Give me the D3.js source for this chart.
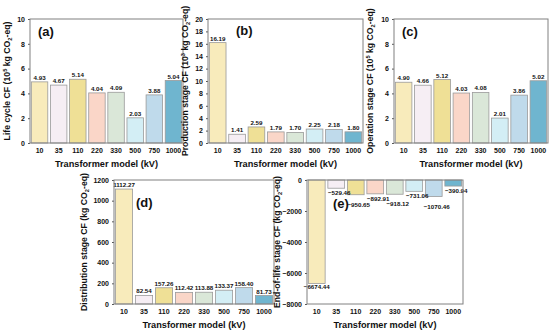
<!DOCTYPE html>
<html>
<head>
<meta charset="utf-8">
<script src="https://cdn.jsdelivr.net/npm/d3@7"></script>
<style>
  body { margin: 0; background: #fff; }
  text { font-family: "Liberation Sans", Arial, sans-serif; font-weight: bold; fill: #111; }
</style>
</head>
<body>
<div id="chart"></div>
<script>
// transformer models (x categories)
var models = ["10", "35", "110", "220", "330", "500", "750", "1000"];

// series values
var lifeCycle = [4.93, 4.67, 5.14, 4.04, 4.09, 2.03, 3.88, 5.04];
var production = [16.19, 1.41, 2.59, 1.79, 1.70, 2.25, 2.18, 1.80];
var operation = [4.90, 4.66, 5.12, 4.03, 4.08, 2.01, 3.86, 5.02];
var distribution = [1112.27, 82.54, 157.26, 112.42, 113.88, 133.37, 158.40, 81.73];
var endOfLife = [-6674.44, -529.46, -950.65, -892.91, -918.12, -731.06, -1070.46, -390.94];

var barColors = ["#f8ebbb", "#f6eef4", "#efe096", "#fad6c8", "#dae7d8", "#d3eef5", "#bfdaeb", "#6fb5cf"];

var svg = d3.select("#chart")
  .append("svg")
  .attr("width", 550)
  .attr("height", 335);

// draw one panel
function drawPanel(p) {
  var g = svg.append("g")
    .attr("transform", `translate(${p.x}, ${p.y})`);

  var x = d3.scaleBand()
    .domain(models)
    .range([0, p.w])
    .paddingInner(0.14)
    .paddingOuter(0.07);

  var y = d3.scaleLinear()
    .domain(p.domain)
    .range([p.h, 0]);

  // y axis
  var yAxis = d3.axisLeft(y).tickValues(p.ticks).tickSize(2).tickPadding(3)
    .tickFormat(d => d < 0 ? "\u2212" + Math.abs(d) : d);
  var ya = g.append("g").call(yAxis);
  ya.select(".domain").remove();
  ya.selectAll("line").attr("stroke", "#555");
  ya.selectAll("text").attr("font-size", 7).attr("fill", "#111")
    .style("font-family", "Liberation Sans").style("font-weight", "bold");

  // x axis
  var xAxis = d3.axisBottom(x).tickSize(0).tickPadding(5);
  var xa = g.append("g").attr("transform", `translate(0, ${p.h})`).call(xAxis);
  xa.select(".domain").remove();
  xa.selectAll("text").attr("font-size", 7).attr("fill", "#111")
    .style("font-family", "Liberation Sans").style("font-weight", "bold");

  var zero = y(0);

  // bars
  g.selectAll("rect.bar")
    .data(p.values)
    .enter()
    .append("rect")
    .attr("class", "bar")
    .attr("x", (d, i) => x(models[i]))
    .attr("width", x.bandwidth())
    .attr("y", d => Math.min(y(d), zero))
    .attr("height", d => Math.abs(y(d) - zero))
    .attr("fill", (d, i) => barColors[i])
    .attr("stroke", "#9a9a9a")
    .attr("stroke-width", 0.8);

  // value labels
  g.selectAll("text.val")
    .data(p.values)
    .enter()
    .append("text")
    .attr("class", "val")
    .attr("font-size", 6.2)
    .attr("text-anchor", "middle")
    .attr("x", (d, i) => x(models[i]) + x.bandwidth() / 2 + (d < 0 && i > 0 ? 3 : 0))
    .attr("y", function(d, i) {
      if (d >= 0) return y(d) - 2;
      var off = i === 0 ? 6 : (i % 2 === 0 ? 12 : 7);
      return y(d) + off;
    })
    .text(d => d < 0 ? "\u2212" + Math.abs(d).toFixed(2) : d.toFixed(2));

  // frame
  g.append("rect")
    .attr("width", p.w)
    .attr("height", p.h)
    .attr("fill", "none")
    .attr("stroke", "#808080")
    .attr("stroke-width", 1);

  // panel letter
  g.append("text")
    .attr("x", p.lx)
    .attr("y", p.ly)
    .attr("font-size", 13)
    .text(p.letter);

  // x title
  g.append("text")
    .attr("x", p.w / 2)
    .attr("y", p.h + 24)
    .attr("text-anchor", "middle")
    .attr("font-size", 9.2)
    .text("Transformer model (kV)");

  // y title
  var yt = g.append("text")
    .attr("transform", `translate(${p.tx}, ${p.h / 2}) rotate(-90)`)
    .attr("text-anchor", "middle")
    .attr("font-size", 8.7);
  yt.append("tspan").text(p.title[0]);
  if (p.sup) {
    yt.append("tspan").attr("font-size", 5.7).attr("dy", -3).text(p.sup);
    yt.append("tspan").attr("dy", 3).text(p.title[1]);
  }
  yt.append("tspan").attr("font-size", 5.7).attr("dy", 2).text("2");
  yt.append("tspan").attr("dy", -2).text("-eq)");
}

drawPanel({x: 30, y: 19, w: 153, h: 124, domain: [0, 10], ticks: [0, 2, 4, 6, 8, 10],
  values: lifeCycle, letter: "(a)", lx: 8, ly: 17, tx: -20,
  title: ["Life cycle CF (10", " kg CO"], sup: "5"});

drawPanel({x: 208, y: 19, w: 155, h: 124, domain: [0, 20], ticks: d3.range(0, 21, 2),
  values: production, letter: "(b)", lx: 28, ly: 16, tx: -20,
  title: ["Production stage CF (10", " kg CO"], sup: "3"});

drawPanel({x: 394, y: 19, w: 154, h: 124, domain: [0, 10], ticks: [0, 2, 4, 6, 8, 10],
  values: operation, letter: "(c)", lx: 8, ly: 17, tx: -21,
  title: ["Operation stage CF (10", " kg CO"], sup: "5"});

drawPanel({x: 114, y: 180, w: 160, h: 124, domain: [0, 1200], ticks: d3.range(0, 1201, 200),
  values: distribution, letter: "(d)", lx: 22, ly: 27, tx: -27,
  title: ["Distribution stage CF (kg CO"]});

drawPanel({x: 307, y: 180, w: 156, h: 124, domain: [-8000, 0], ticks: [-8000, -6000, -4000, -2000, 0],
  values: endOfLife, letter: "(e)", lx: 26, ly: 28, tx: -27,
  title: ["End-of-life stage CF (kg CO"]});
</script>
</body>
</html>
